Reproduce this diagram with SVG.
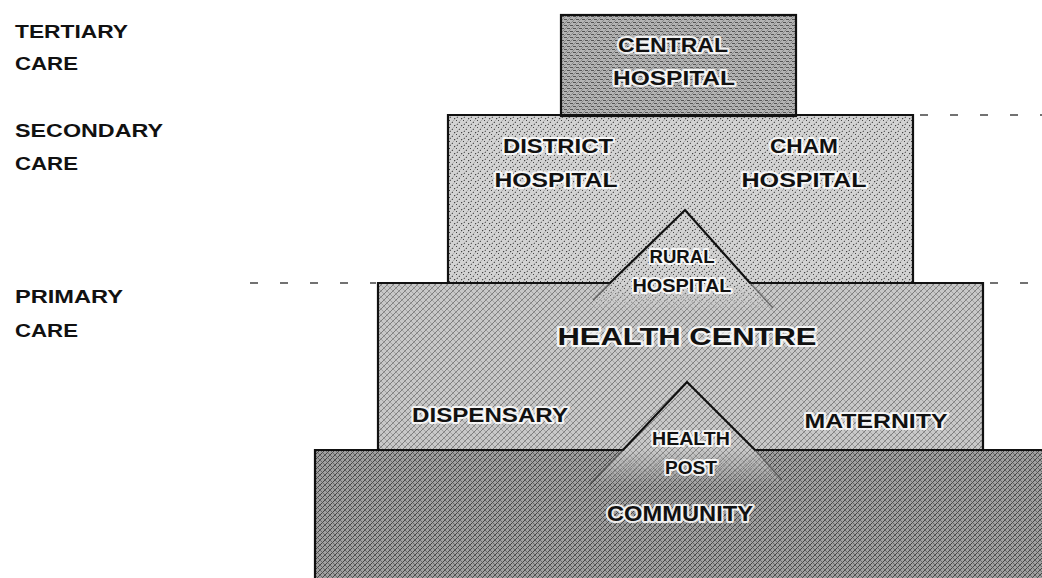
<svg xmlns="http://www.w3.org/2000/svg" width="1042" height="578" viewBox="0 0 1042 578">
<style>
.lbl{font-family:"Liberation Sans",Arial,sans-serif;font-weight:bold;fill:#111;}
.nt{font-family:"Liberation Sans",Arial,sans-serif;font-weight:bold;fill:#111;text-anchor:middle;stroke:#fff;stroke-width:4;stroke-opacity:0.85;paint-order:stroke;stroke-linejoin:round;}
.edge{fill:none;stroke:#111;stroke-width:2.2;}
.faint{fill:none;stroke:#333;stroke-width:1.5;stroke-opacity:0.6;}
.guide{fill:none;stroke:#444;stroke-width:1.3;stroke-dasharray:8 22;}
</style>
<defs>
<pattern id="pCentral" width="6" height="6" patternUnits="userSpaceOnUse">
<rect width="6" height="6" fill="#b4b4b4"/>
<path d="M0 1.5H3M3 4.5H6" stroke="#555" stroke-width="1"/>
<path d="M-1 1L1 -1M0 6L6 0M5 7L7 5" stroke="#777" stroke-width="0.7"/>
</pattern>
<pattern id="pSecondary" width="7" height="7" patternUnits="userSpaceOnUse">
<rect width="7" height="7" fill="#d2d2d2"/>
<rect x="1" y="1" width="1" height="1" fill="#444"/>
<rect x="4" y="3" width="1" height="1" fill="#555"/>
<rect x="2" y="5" width="1" height="1" fill="#666"/>
<rect x="6" y="6" width="1" height="1" fill="#444"/>
<path d="M-1 1L1 -1M0 7L7 0M6 8L8 6" stroke="#999" stroke-width="0.6"/>
</pattern>
<pattern id="pPrimary" width="6" height="6" patternUnits="userSpaceOnUse">
<rect width="6" height="6" fill="#c8c8c8"/>
<path d="M-1 1L1 -1M0 6L6 0M5 7L7 5" stroke="#6a6a6a" stroke-width="0.8"/>
<path d="M-1 5L1 7M0 0L6 6M5 -1L7 1" stroke="#8a8a8a" stroke-width="0.6"/>
</pattern>
<pattern id="pCommunity" width="5" height="5" patternUnits="userSpaceOnUse">
<rect width="5" height="5" fill="#a0a0a0"/>
<path d="M-1 1L1 -1M0 5L5 0M4 6L6 4" stroke="#3a3a3a" stroke-width="0.9"/>
<path d="M-1 4L1 6M0 0L5 5M4 -1L6 1" stroke="#555" stroke-width="0.7"/>
</pattern>
<linearGradient id="gRural" gradientUnits="userSpaceOnUse" x1="0" y1="283" x2="0" y2="312">
<stop offset="0" stop-color="#fff"/><stop offset="1" stop-color="#000"/>
</linearGradient>
<linearGradient id="gPost" gradientUnits="userSpaceOnUse" x1="0" y1="450" x2="0" y2="486">
<stop offset="0" stop-color="#fff"/><stop offset="1" stop-color="#000"/>
</linearGradient>
<mask id="mRural" maskUnits="userSpaceOnUse" x="0" y="0" width="1042" height="578">
<rect x="0" y="0" width="1042" height="283" fill="#fff"/>
<rect x="0" y="283" width="1042" height="40" fill="url(#gRural)"/>
</mask>
<mask id="mPost" maskUnits="userSpaceOnUse" x="0" y="0" width="1042" height="578">
<rect x="0" y="0" width="1042" height="450" fill="#fff"/>
<rect x="0" y="450" width="1042" height="40" fill="url(#gPost)"/>
</mask>
</defs>
<rect width="1042" height="578" fill="#fff"/>

<g id="level-labels">
<text class="lbl" x="15" y="38" font-size="18" textLength="113" lengthAdjust="spacingAndGlyphs">TERTIARY</text>
<text class="lbl" x="15" y="70" font-size="18" textLength="63" lengthAdjust="spacingAndGlyphs">CARE</text>
<text class="lbl" x="15" y="137" font-size="18" textLength="148" lengthAdjust="spacingAndGlyphs">SECONDARY</text>
<text class="lbl" x="15" y="170" font-size="18" textLength="63" lengthAdjust="spacingAndGlyphs">CARE</text>
<text class="lbl" x="15" y="303" font-size="18" textLength="108" lengthAdjust="spacingAndGlyphs">PRIMARY</text>
<text class="lbl" x="15" y="337" font-size="18" textLength="63" lengthAdjust="spacingAndGlyphs">CARE</text>
</g>

<g id="community">
<rect x="315" y="450" width="727" height="128" fill="url(#pCommunity)"/>
</g>

<g id="primary">
<rect x="378" y="283" width="605" height="167" fill="url(#pPrimary)"/>
</g>

<g id="health-post">
<polygon points="687,382 590,486 791,486" fill="url(#pPrimary)" mask="url(#mPost)"/>
</g>

<g id="secondary">
<rect x="448" y="115" width="465" height="168" fill="url(#pSecondary)"/>
</g>

<g id="rural-hospital">
<polygon points="685,210 584,312 778,312" fill="url(#pSecondary)" mask="url(#mRural)"/>
</g>

<g id="central-hospital">
<rect x="561" y="15" width="235" height="101" fill="url(#pCentral)" stroke="#111" stroke-width="2.2"/>
</g>

<g id="connectors">
<path class="edge" d="M448 283V115H913V283"/>
<path class="edge" d="M378 450V283H610L685 210L750 283H983V450"/>
<path class="edge" d="M315 578V450H623L687 382L755 450H1042"/>
<path class="faint" d="M610 283L593 300M750 283L773 308"/>
<path class="faint" d="M623 450L590 484M755 450L782 480"/>
<path class="guide" d="M920 115H1042"/>
<path class="guide" d="M990 283H1042"/>
<path class="guide" d="M250 283H376" stroke-dasharray="3 34"/>
</g>

<g id="texts">
<text class="nt" x="673" y="52" font-size="21" textLength="110" lengthAdjust="spacingAndGlyphs">CENTRAL</text>
<text class="nt" x="674" y="85" font-size="21" textLength="122" lengthAdjust="spacingAndGlyphs">HOSPITAL</text>
<text class="nt" x="558" y="153" font-size="21" textLength="110" lengthAdjust="spacingAndGlyphs">DISTRICT</text>
<text class="nt" x="556" y="187" font-size="21" textLength="123" lengthAdjust="spacingAndGlyphs">HOSPITAL</text>
<text class="nt" x="804" y="153" font-size="21" textLength="68" lengthAdjust="spacingAndGlyphs">CHAM</text>
<text class="nt" x="804" y="187" font-size="21" textLength="125" lengthAdjust="spacingAndGlyphs">HOSPITAL</text>
<text class="nt" x="682" y="263" font-size="19" textLength="65" lengthAdjust="spacingAndGlyphs">RURAL</text>
<text class="nt" x="682" y="292" font-size="19" textLength="99" lengthAdjust="spacingAndGlyphs">HOSPITAL</text>
<text class="nt" x="687" y="345" font-size="23" textLength="259" lengthAdjust="spacingAndGlyphs">HEALTH CENTRE</text>
<text class="nt" x="490" y="422" font-size="21" textLength="156" lengthAdjust="spacingAndGlyphs">DISPENSARY</text>
<text class="nt" x="876" y="428" font-size="21" textLength="143" lengthAdjust="spacingAndGlyphs">MATERNITY</text>
<text class="nt" x="691" y="445" font-size="18" textLength="78" lengthAdjust="spacingAndGlyphs">HEALTH</text>
<text class="nt" x="691" y="474" font-size="18" textLength="52" lengthAdjust="spacingAndGlyphs">POST</text>
<text class="nt" x="680" y="521" font-size="22" textLength="146" lengthAdjust="spacingAndGlyphs">COMMUNITY</text>
</g>
</svg>
